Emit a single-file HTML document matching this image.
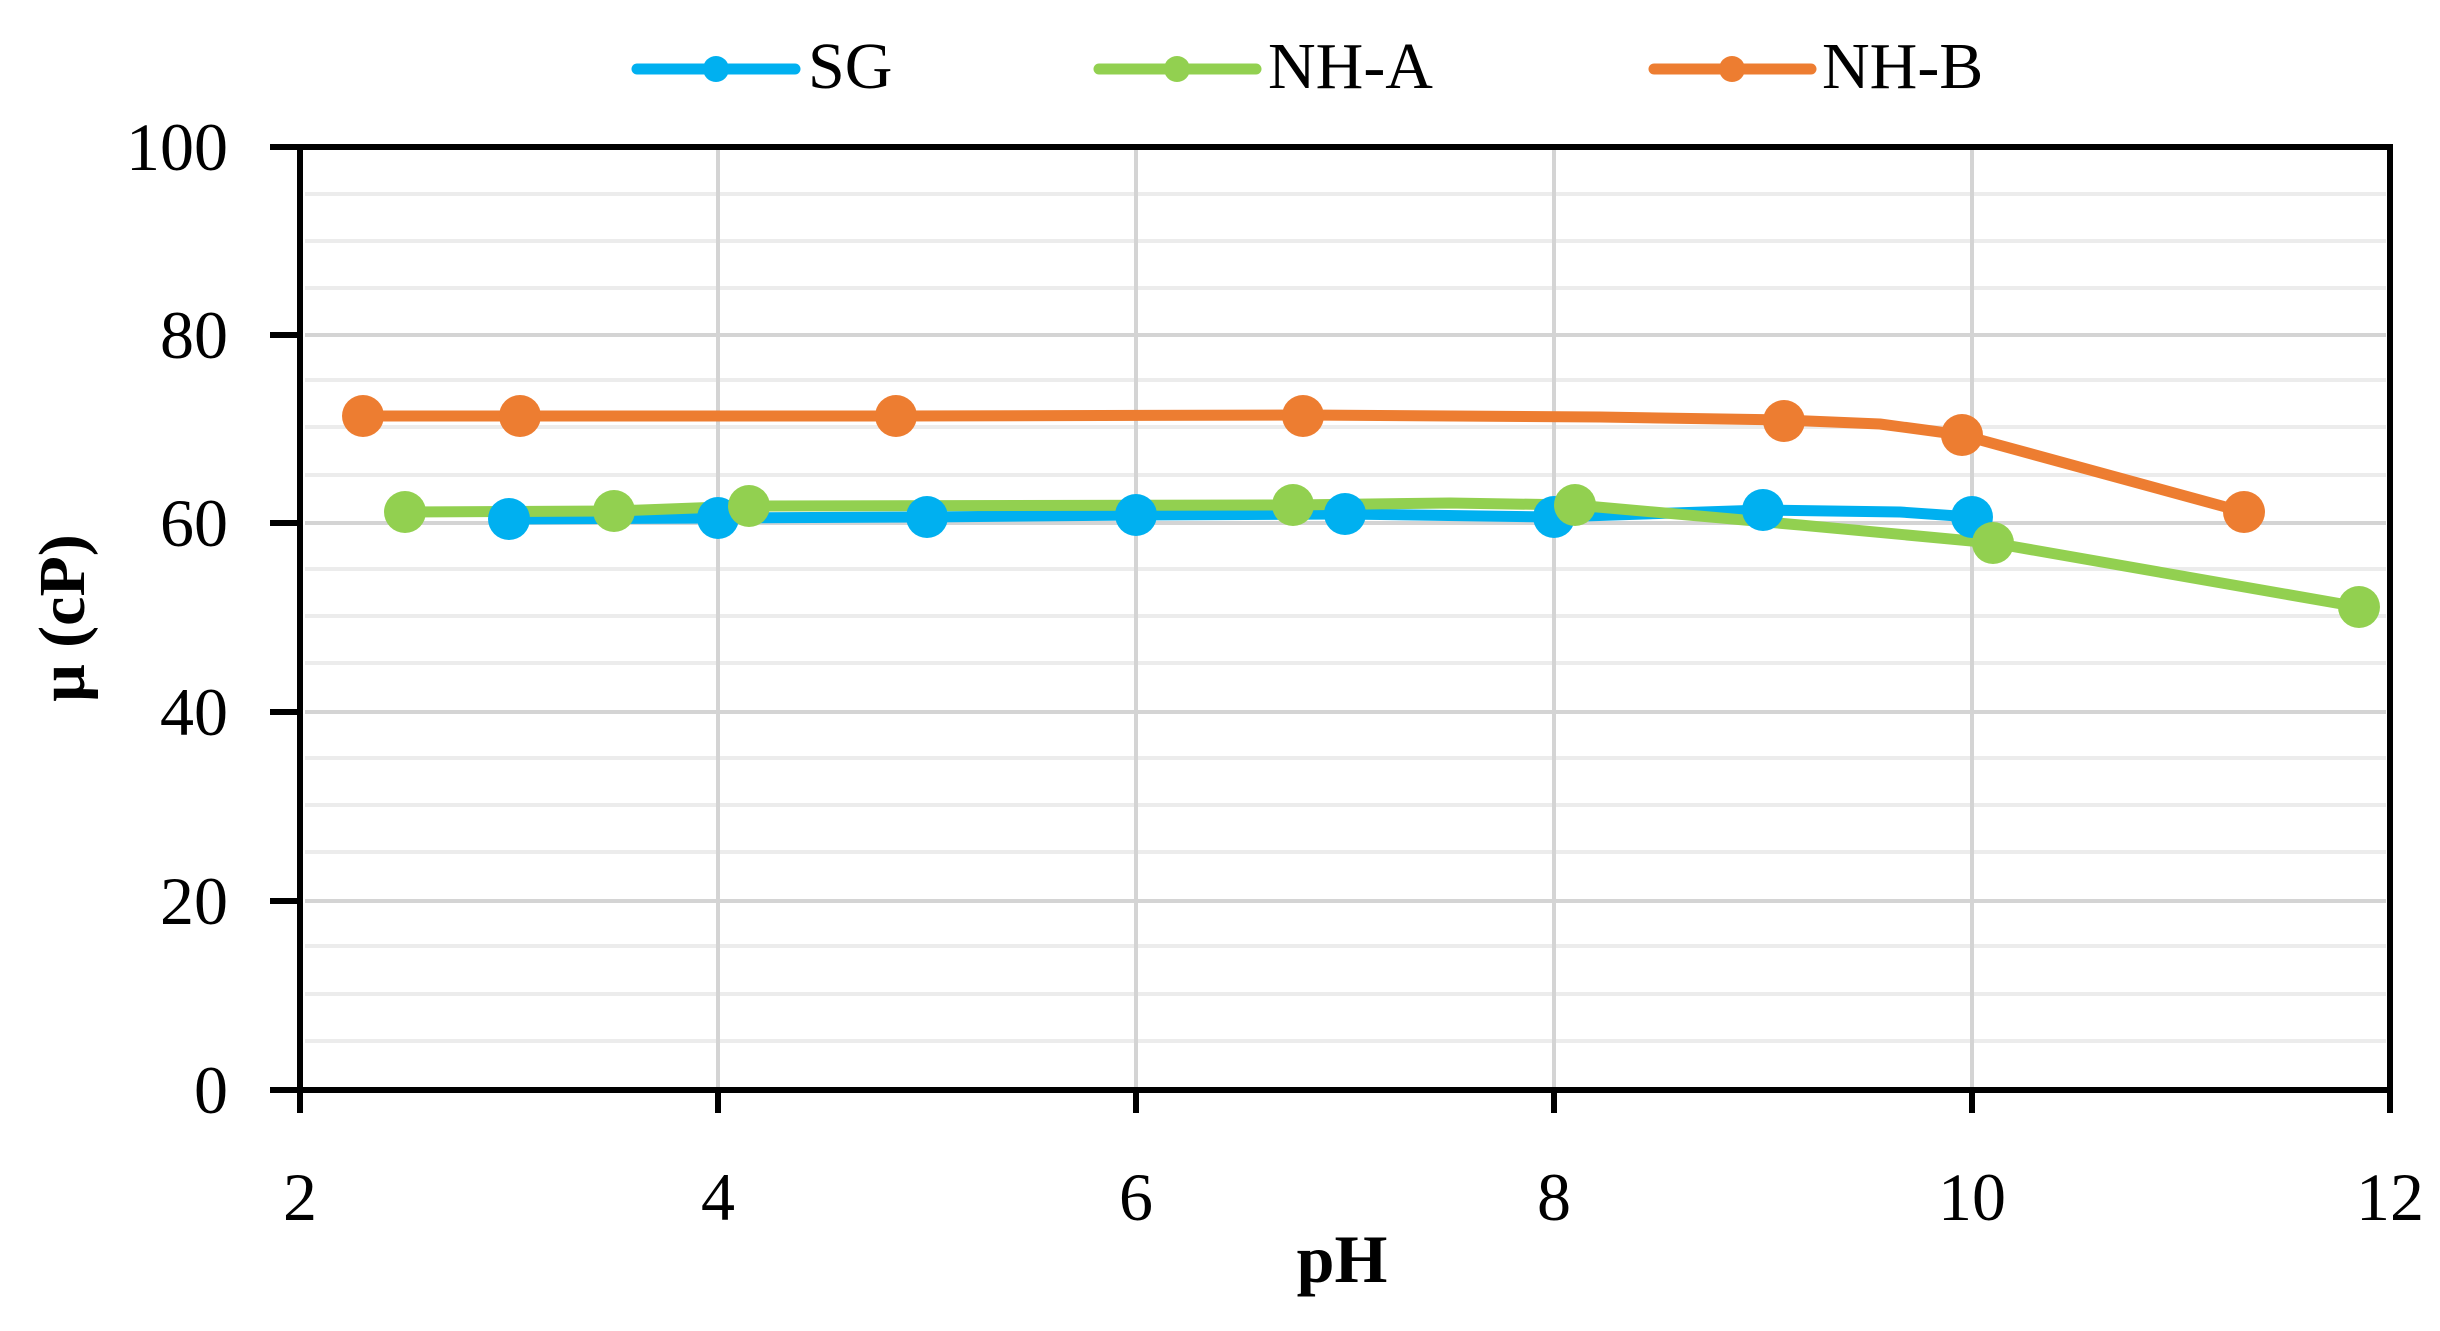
<!DOCTYPE html>
<html><head><style>body{margin:0;background:#fff}svg{display:block}</style></head><body>
<svg width="2440" height="1331" viewBox="0 0 2440 1331" xmlns="http://www.w3.org/2000/svg" font-family="Liberation Serif, serif">
<rect width="2440" height="1331" fill="#fff"/>
<g stroke="#ececec" stroke-width="4">
<line x1="305" x2="2386" y1="194" y2="194"/><line x1="305" x2="2386" y1="241" y2="241"/><line x1="305" x2="2386" y1="288" y2="288"/>
<line x1="305" x2="2386" y1="380" y2="380"/><line x1="305" x2="2386" y1="427" y2="427"/><line x1="305" x2="2386" y1="475" y2="475"/>
<line x1="305" x2="2386" y1="569" y2="569"/><line x1="305" x2="2386" y1="616" y2="616"/><line x1="305" x2="2386" y1="663" y2="663"/>
<line x1="305" x2="2386" y1="758" y2="758"/><line x1="305" x2="2386" y1="805" y2="805"/><line x1="305" x2="2386" y1="852" y2="852"/>
<line x1="305" x2="2386" y1="946" y2="946"/><line x1="305" x2="2386" y1="994" y2="994"/><line x1="305" x2="2386" y1="1041" y2="1041"/>
</g>
<g stroke="#d4d4d4" stroke-width="4">
<line x1="305" x2="2386" y1="335" y2="335"/><line x1="305" x2="2386" y1="523" y2="523"/><line x1="305" x2="2386" y1="712" y2="712"/><line x1="305" x2="2386" y1="901" y2="901"/>
<line x1="718" x2="718" y1="150" y2="1088"/><line x1="1136" x2="1136" y1="150" y2="1088"/><line x1="1554" x2="1554" y1="150" y2="1088"/><line x1="1972" x2="1972" y1="150" y2="1088"/>
</g>
<rect x="300" y="147" width="2090" height="943" fill="none" stroke="#000" stroke-width="6"/>
<g stroke="#000" stroke-width="6">
<line x1="270" x2="300" y1="147" y2="147"/><line x1="270" x2="300" y1="335" y2="335"/><line x1="270" x2="300" y1="523" y2="523"/><line x1="270" x2="300" y1="712" y2="712"/><line x1="270" x2="300" y1="901" y2="901"/><line x1="270" x2="300" y1="1090" y2="1090"/>
<line x1="300" x2="300" y1="1090" y2="1113"/><line x1="718" x2="718" y1="1090" y2="1113"/><line x1="1136" x2="1136" y1="1090" y2="1113"/><line x1="1554" x2="1554" y1="1090" y2="1113"/><line x1="1972" x2="1972" y1="1090" y2="1113"/><line x1="2390" x2="2390" y1="1090" y2="1113"/>
</g>
<g font-size="68" fill="#000" text-anchor="end">
<text x="228" y="170">100</text><text x="228" y="358">80</text><text x="228" y="546">60</text><text x="228" y="735">40</text><text x="228" y="924">20</text><text x="228" y="1113">0</text>
</g>
<g font-size="68" fill="#000" text-anchor="middle">
<text x="300" y="1220">2</text><text x="718" y="1220">4</text><text x="1136" y="1220">6</text><text x="1554" y="1220">8</text><text x="1972" y="1220">10</text><text x="2390" y="1220">12</text>
</g>
<text x="1342" y="1282" font-size="68" font-weight="bold" text-anchor="middle">pH</text>
<text transform="translate(84,618) rotate(-90)" font-size="66" font-weight="bold" text-anchor="middle">μ (cP)</text>
<g fill="none" stroke-width="11" stroke-linejoin="round" stroke-linecap="round">
<polyline stroke="#ed7d31" points="363,416 520,416 896,416 1303,415 1600,417 1784,420 1880,424 1962,435 2244,512"/>
<polyline stroke="#00b0f0" points="509,519 718,518 927,517 1136,515 1345,514 1554,517 1763,510 1900,512 1972,517"/>
<polyline stroke="#92d050" points="405,512 614,511 749,506 1293,505 1450,503 1575,505 1800,525 1993,543 2359,607"/>
</g>
<g fill="#00b0f0">
<circle cx="509" cy="519" r="21"/><circle cx="718" cy="518" r="21"/><circle cx="927" cy="517" r="21"/><circle cx="1136" cy="515" r="21"/><circle cx="1345" cy="514" r="21"/><circle cx="1554" cy="517" r="21"/><circle cx="1763" cy="510" r="21"/><circle cx="1972" cy="517" r="21"/>
</g>
<g fill="#92d050">
<circle cx="405" cy="512" r="21"/><circle cx="614" cy="511" r="21"/><circle cx="749" cy="506" r="21"/><circle cx="1293" cy="505" r="21"/><circle cx="1575" cy="505" r="21"/><circle cx="1993" cy="543" r="21"/><circle cx="2359" cy="607" r="21"/>
</g>
<g fill="#ed7d31">
<circle cx="363" cy="416" r="21"/><circle cx="520" cy="416" r="21"/><circle cx="896" cy="416" r="21"/><circle cx="1303" cy="416" r="21"/><circle cx="1784" cy="421" r="21"/><circle cx="1962" cy="435" r="21"/><circle cx="2244" cy="512" r="21"/>
</g>
<g stroke-width="11" stroke-linecap="round">
<line x1="637" x2="795" y1="69" y2="69" stroke="#00b0f0"/><circle cx="716" cy="69" r="13" fill="#00b0f0"/>
<line x1="1099" x2="1256" y1="69" y2="69" stroke="#92d050"/><circle cx="1177" cy="69" r="13" fill="#92d050"/>
<line x1="1654" x2="1811" y1="69" y2="69" stroke="#ed7d31"/><circle cx="1732" cy="69" r="13" fill="#ed7d31"/>
</g>
<g font-size="66" fill="#000">
<text x="808" y="88">SG</text><text x="1268" y="88">NH-A</text><text x="1822" y="88">NH-B</text>
</g>
</svg>
</body></html>
